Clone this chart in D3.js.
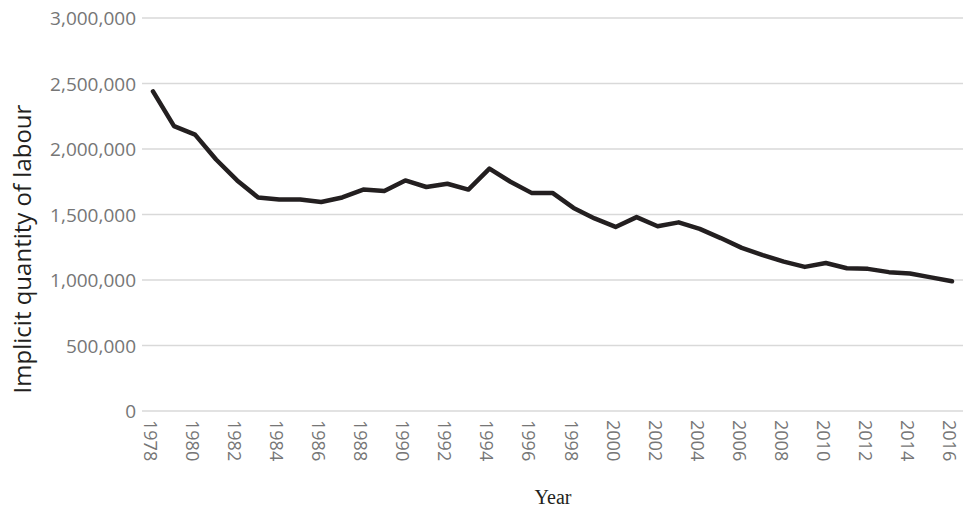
<!DOCTYPE html>
<html><head><meta charset="utf-8">
<script src="https://cdn.jsdelivr.net/npm/d3@7"></script>
<style>body{margin:0;background:#fff}</style>
</head><body><svg id="chart" width="963" height="509"></svg>
<script>
var years = d3.range(1978, 2017);
var labour = [2440000, 2175000, 2110000, 1920000, 1760000, 1630000, 1615000, 1615000, 1595000, 1630000,
  1690000, 1680000, 1760000, 1710000, 1735000, 1690000, 1850000, 1750000, 1665000, 1665000,
  1550000, 1470000, 1405000, 1480000, 1410000, 1440000, 1390000, 1320000, 1245000, 1190000,
  1140000, 1100000, 1130000, 1090000, 1085000, 1060000, 1050000, 1020000, 990000];
var yTicks = [0, 500000, 1000000, 1500000, 2000000, 2500000, 3000000];
var xTicks = d3.range(1978, 2017, 2);

var svg = d3.select("#chart");
var x = d3.scaleLinear().domain([1978, 2016]).range([153, 952]);
var y = d3.scaleLinear().domain([0, 3000000]).range([411, 18]);

// gridlines
svg.selectAll(".grid").data(yTicks).enter().append("line")
  .attr("x1", 142).attr("x2", 963)
  .attr("y1", d => y(d)).attr("y2", d => y(d))
  .attr("stroke", "#d9d9d9").attr("stroke-width", 1.3);

svg.selectAll(".ylab").data(yTicks).enter().append("text")
  .attr("x", 136).attr("y", d => y(d) + 7)
  .attr("text-anchor", "end").attr("fill", "#767676")
  .style("font", "19px 'Open Sans', sans-serif")
  .text(d => d3.format(",")(d));

svg.selectAll(".xlab").data(xTicks).enter().append("text")
  .attr("transform", d => "translate(" + (x(d) - 9) + ",420) rotate(90)")
  .attr("fill", "#767676")
  .style("font", "18px 'Open Sans', sans-serif")
  .text(d => d);

var line = d3.line().x((d, i) => x(years[i])).y(d => y(d));
svg.append("path").datum(labour).attr("d", line)
  .attr("fill", "none").attr("stroke", "#231f20")
  .attr("stroke-width", 4.5).attr("stroke-linejoin", "round").attr("stroke-linecap", "round");

svg.append("text").attr("x", 553).attr("y", 504).attr("text-anchor", "middle")
  .style("font", "20px 'Liberation Serif', serif").attr("fill", "#231f20").text("Year");

svg.append("text").attr("transform", "translate(31,249) rotate(-90)")
  .attr("text-anchor", "middle").attr("fill", "#231f20")
  .style("font", "24px 'Open Sans', sans-serif").text("Implicit quantity of labour");
</script></body></html>
